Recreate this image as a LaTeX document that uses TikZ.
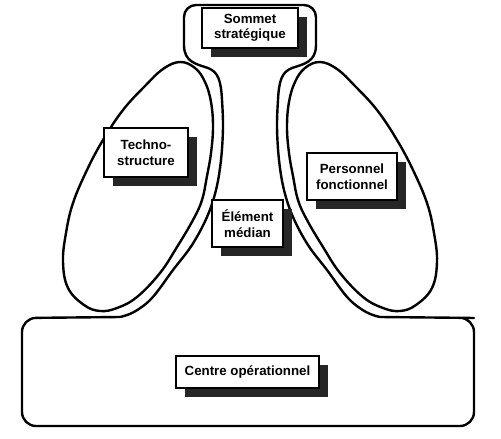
\documentclass[tikz,border=0pt]{standalone}
\usepackage{fontspec}
\setmainfont{Liberation Sans}
\usetikzlibrary{shadows}
\begin{document}
\begin{tikzpicture}[x=1pt,y=-1pt,
  outline/.style={draw=black, line width=2.4pt, line join=round},
  labelbox/.style={draw=black, line width=1.1pt, fill=white, inner sep=0pt, align=center,
    font=\bfseries\fontsize{13.3}{15.5}\selectfont,
    drop shadow={shadow xshift=8.5pt, shadow yshift=-8.5pt, fill=black!85, opacity=1}}]
\useasboundingbox (0,0) rectangle (501,439);

% outer outline
\draw[outline] (120,317)
  [rounded corners=14pt] -- (22,318) -- (22,426) -- (474,426) -- (474,318) -- (460,317.8)
  [sharp corners] -- (380,317)
  -- plot[smooth, tension=0.6] coordinates {(380,317) (366,312) (348,298) (327,270) (308,245) (293,217) (284,190) (279,160) (277,127) (278,100)}
  .. controls (279,80) and (282,72) .. (292,68)
  .. controls (304,64) and (316,62) .. (316,45)
  [rounded corners=12pt] -- (316,5) -- (184,5) -- (184,30)
  [sharp corners] -- (184,45)
  .. controls (184,62) and (196,64) .. (208,68)
  .. controls (218,72) and (221,80) .. (222,100)
  -- plot[smooth, tension=0.6] coordinates {(222,100) (223,127) (221,160) (216,190) (207,217) (192,245) (173,270) (152,298) (134,312) (120,317)}
  -- cycle;

% ellipses
\draw[outline] plot[smooth cycle, tension=0.65] coordinates {(180,62) (195,68) (205,82) (211,102) (213,127) (211,153) (207,176) (202,200) (193,220) (177,247) (160,273) (137,297) (117,308) (100,311) (84,305) (68,288) (63,262) (66,233) (73,203) (87,170) (103,140) (123,110) (145,86) (163,69)};
\draw[outline] plot[smooth cycle, tension=0.65] coordinates {(320,62) (305,68) (295,82) (289,102) (287,127) (289,153) (293,176) (298,200) (307,220) (323,247) (340,273) (363,297) (383,308) (400,311) (416,305) (432,288) (437,262) (434,233) (427,203) (413,170) (397,140) (377,110) (355,86) (337,69)};

% labels
\node[labelbox, minimum width=96pt, minimum height=40pt] (sommet) at (250,28) {Sommet\\stratégique};
\node[labelbox, minimum width=84pt, minimum height=49pt] (techno) at (146,152.5) {Techno-\\structure};
\node[labelbox, minimum width=90pt, minimum height=47pt] (personnel) at (352,176.5) {Personnel\\fonctionnel};
\node[labelbox, minimum width=71pt, minimum height=47pt] (median) at (247.5,223.5) {Élément\\médian};
\node[labelbox, minimum width=143pt, minimum height=32pt] (centre) at (247.5,372) {Centre opérationnel};
\end{tikzpicture}
\end{document}
